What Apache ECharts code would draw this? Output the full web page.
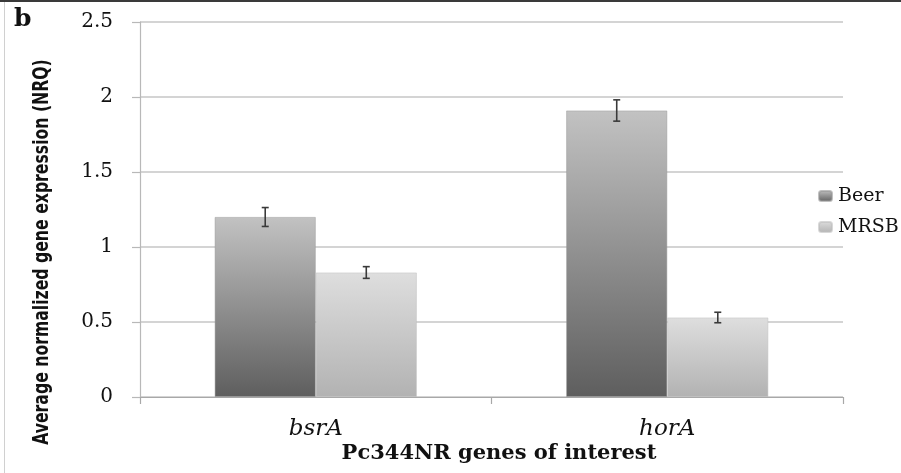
<!DOCTYPE html>
<html>
<head>
<meta charset="utf-8">
<script src="https://cdn.jsdelivr.net/npm/echarts@6/dist/echarts.min.js"></script>
<style>
html,body{margin:0;padding:0;background:#fff;}
#c{width:901px;height:473px;}
</style>
</head>
<body>
<div id="c"></div>
<script>
var categories = ['bsrA', 'horA'];
var seriesNames = ['Beer', 'MRSB'];
var beerValues = [1.2, 1.91];
var mrsbValues = [0.83, 0.53];
var beerErrors = [0.063, 0.071];
var mrsbErrors = [0.039, 0.035];
var yTicks = [0, 0.5, 1, 1.5, 2, 2.5];

var chart = echarts.init(document.getElementById('c'), null, {renderer: 'canvas'});
var serif = "'DejaVu Serif', 'Liberation Serif', serif";
var catGap = 0.425;

function grad(top, bottom) {
  return new echarts.graphic.LinearGradient(0, 0, 0, 1, [
    {offset: 0, color: top}, {offset: 1, color: bottom}
  ]);
}

function errorSeries(values, errors, side) {
  return {
    type: 'custom',
    silent: true,
    z: 10,
    data: values.map(function (v, i) { return [i, v, errors[i]]; }),
    renderItem: function (params, api) {
      var i = api.value(0), v = api.value(1), e = api.value(2);
      var catW = api.size([1, 0])[0];
      var barW = catW * (1 - catGap) / 2;
      var hi = api.coord([i, v + e]);
      var lo = api.coord([i, v - e]);
      var x = hi[0] + side * barW / 2;
      var cap = 3.5;
      var st = {stroke: '#3a3a3a', lineWidth: 1.6};
      return {
        type: 'group',
        children: [
          {type: 'line', shape: {x1: x, y1: hi[1], x2: x, y2: lo[1]}, style: st},
          {type: 'line', shape: {x1: x - cap, y1: hi[1], x2: x + cap, y2: hi[1]}, style: st},
          {type: 'line', shape: {x1: x - cap, y1: lo[1], x2: x + cap, y2: lo[1]}, style: st}
        ]
      };
    }
  };
}

var option = {
  animation: false,
  backgroundColor: '#ffffff',
  grid: {left: 140, right: 58, top: 22, bottom: 76, containLabel: false},
  legend: {
    orient: 'vertical',
    left: 818,
    top: 185,
    padding: 0,
    itemWidth: 13,
    itemHeight: 10,
    itemGap: 9,
    data: seriesNames,
    textStyle: {fontFamily: serif, fontSize: 19, color: '#111', lineHeight: 22, padding: [0, 0, 0, 1]}
  },
  xAxis: {
    type: 'category',
    data: categories,
    axisLine: {lineStyle: {color: '#a8a8a8', width: 1.2}},
    axisTick: {show: true, length: 7, lineStyle: {color: '#a8a8a8', width: 1.2}},
    axisLabel: {fontFamily: serif, fontStyle: 'italic', fontSize: 23, color: '#111', margin: 21},
    splitLine: {show: false}
  },
  yAxis: {
    type: 'value',
    min: yTicks[0],
    max: yTicks[yTicks.length - 1],
    interval: 0.5,
    axisLine: {show: true, lineStyle: {color: '#b8b8b8', width: 1.2}},
    axisTick: {show: true, length: 8, lineStyle: {color: '#b8b8b8', width: 1.2}},
    axisLabel: {fontFamily: serif, fontSize: 20, color: '#111', margin: 27},
    splitLine: {show: true, lineStyle: {color: '#c6c6c6', width: 1.5}}
  },
  series: [
    {
      name: seriesNames[0],
      type: 'bar',
      data: beerValues,
      barGap: '0%',
      barCategoryGap: (catGap * 100) + '%',
      itemStyle: {color: grad('#c2c2c2', '#5e5e5e'), borderColor: 'rgba(150,150,150,0.6)', borderWidth: 0.8}
    },
    {
      name: seriesNames[1],
      type: 'bar',
      data: mrsbValues,
      barGap: '0%',
      barCategoryGap: (catGap * 100) + '%',
      itemStyle: {color: grad('#dedede', '#b2b2b2'), borderColor: 'rgba(190,190,190,0.6)', borderWidth: 0.8}
    },
    errorSeries(beerValues, beerErrors, -1),
    errorSeries(mrsbValues, mrsbErrors, 1)
  ],
  graphic: [
    {type: 'rect', left: 0, top: 0, shape: {width: 901, height: 2}, style: {fill: '#3a3a3a'}, silent: true},
    {type: 'rect', left: 4, top: 2, shape: {width: 1, height: 471}, style: {fill: '#d0d0d0'}, silent: true},
    {type: 'text', x: 14, y: 7, style: {text: 'b', font: 'bold 25px ' + serif, fill: '#111'}},
    {type: 'text', x: 43, y: 252, rotation: Math.PI / 2, scaleX: 0.83,
      style: {text: 'Average normalized gene expression (NRQ)', font: "bold 21px 'Liberation Sans Narrow', 'DejaVu Sans Condensed', sans-serif",
        fill: '#111', textAlign: 'center', textVerticalAlign: 'middle'}},
    {type: 'text', x: 499, y: 454,
      style: {text: 'Pc344NR genes of interest', font: 'bold 21px ' + serif, fill: '#111', textAlign: 'center', textVerticalAlign: 'middle'}}
  ]
};
chart.setOption(option);
</script>
</body>
</html>
